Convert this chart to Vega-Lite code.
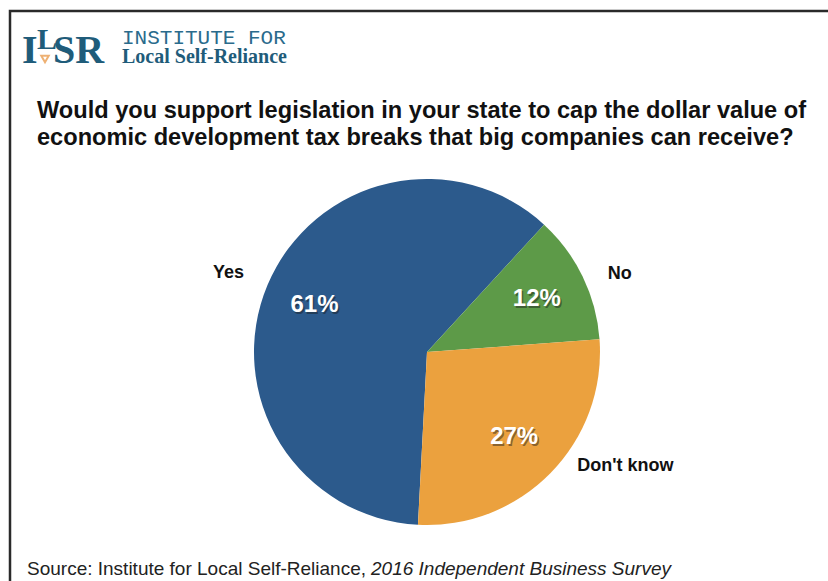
{
  "$schema": "https://vega.github.io/schema/vega-lite/v6.json",
  "width": 828,
  "height": 581,
  "padding": 0,
  "autosize": {"type": "none"},
  "background": "white",
  "config": {"view": {"stroke": null}},
  "data": {"values": [
    {"answer": "Yes", "pct": 0.61},
    {"answer": "No", "pct": 0.12},
    {"answer": "Don't know", "pct": 0.27}
  ]},
  "layer": [
    {
      "data": {"values": [{}]},
      "mark": {"type": "rect", "fill": null, "stroke": "#2a2a2a", "strokeWidth": 2.5},
      "encoding": {"x": {"value": 10}, "y": {"value": 11}, "x2": {"value": 900}, "y2": {"value": 700}}
    },
    {
      "mark": {"type": "arc", "outerRadius": 173},
      "encoding": {
        "x": {"value": 427},
        "y": {"value": 352},
        "theta": {"field": "pct", "type": "quantitative", "stack": true, "scale": {"domain": [0, 1], "range": [3.194, 9.477]}},
        "order": {"field": "answer", "sort": "descending"},
        "color": {"field": "answer", "type": "nominal", "legend": null,
          "scale": {"domain": ["Yes", "No", "Don't know"], "range": ["#2c5a8c", "#5d9a48", "#eba13e"]}}
      }
    },
    {
      "mark": {"type": "text", "radius": 122, "font": "Liberation Sans", "fontWeight": "bold", "fontSize": 24, "fill": "#1a1a1a", "opacity": 0.45, "dx": 1.5, "dy": 2, "align": "center", "baseline": "middle"},
      "encoding": {
        "x": {"value": 427},
        "y": {"value": 352},
        "theta": {"field": "pct", "type": "quantitative", "stack": true},
        "order": {"field": "answer", "sort": "descending"},
        "text": {"field": "pct", "type": "quantitative", "format": ".0%"}
      }
    },
    {
      "mark": {"type": "text", "radius": 122, "font": "Liberation Sans", "fontWeight": "bold", "fontSize": 24, "fill": "white", "align": "center", "baseline": "middle"},
      "encoding": {
        "x": {"value": 427},
        "y": {"value": 352},
        "theta": {"field": "pct", "type": "quantitative", "stack": true},
        "order": {"field": "answer", "sort": "descending"},
        "text": {"field": "pct", "type": "quantitative", "format": ".0%"}
      }
    },
    {
      "mark": {"type": "text", "radius": 212, "font": "Liberation Sans", "fontWeight": "bold", "fontSize": 18, "fill": "#111", "align": "center", "baseline": "middle", "dx": -3, "dy": 3},
      "encoding": {
        "x": {"value": 427},
        "y": {"value": 352},
        "theta": {"field": "pct", "type": "quantitative", "stack": true},
        "order": {"field": "answer", "sort": "descending"},
        "text": {"condition": {"test": "datum.answer === 'Yes'", "field": "answer"}, "value": ""}
      }
    },
    {
      "mark": {"type": "text", "radius": 212, "font": "Liberation Sans", "fontWeight": "bold", "fontSize": 18, "fill": "#111", "align": "center", "baseline": "middle", "dx": 2, "dy": 14},
      "encoding": {
        "x": {"value": 427},
        "y": {"value": 352},
        "theta": {"field": "pct", "type": "quantitative", "stack": true},
        "order": {"field": "answer", "sort": "descending"},
        "text": {"condition": {"test": "datum.answer === 'No'", "field": "answer"}, "value": ""}
      }
    },
    {
      "mark": {"type": "text", "radius": 212, "font": "Liberation Sans", "fontWeight": "bold", "fontSize": 18, "fill": "#111", "align": "center", "baseline": "middle", "dx": 47, "dy": -34},
      "encoding": {
        "x": {"value": 427},
        "y": {"value": 352},
        "theta": {"field": "pct", "type": "quantitative", "stack": true},
        "order": {"field": "answer", "sort": "descending"},
        "text": {"condition": {"test": "datum.answer === \"Don't know\"", "field": "answer"}, "value": ""}
      }
    },
    {
      "data": {"values": [{}]},
      "mark": {"type": "text", "font": "Liberation Sans", "fontWeight": "bold", "fontSize": 23.6, "fill": "#111", "align": "left", "baseline": "alphabetic", "lineHeight": 27},
      "encoding": {
        "x": {"value": 37},
        "y": {"value": 118},
        "text": {"value": ["Would you support legislation in your state to cap the dollar value of", "economic development tax breaks that big companies can receive?"]}
      }
    },
    {
      "data": {"values": [{}]},
      "mark": {"type": "text", "font": "Liberation Serif", "fontWeight": "bold", "fontSize": 40, "fill": "#1f5c7a", "align": "left", "baseline": "alphabetic"},
      "encoding": {"x": {"value": 22}, "y": {"value": 63}, "text": {"value": "I"}}
    },
    {
      "data": {"values": [{}]},
      "mark": {"type": "text", "font": "Liberation Serif", "fontWeight": "bold", "fontSize": 30, "fill": "#1f5c7a", "align": "left", "baseline": "alphabetic"},
      "encoding": {"x": {"value": 37}, "y": {"value": 49}, "text": {"value": "L"}}
    },
    {
      "data": {"values": [{}]},
      "mark": {"type": "point", "shape": "triangle-down", "size": 55, "filled": false, "stroke": "#e8913a", "strokeWidth": 2},
      "encoding": {"x": {"value": 45}, "y": {"value": 59}}
    },
    {
      "data": {"values": [{}]},
      "mark": {"type": "text", "font": "Liberation Serif", "fontWeight": "bold", "fontSize": 40, "fill": "#1f5c7a", "align": "left", "baseline": "alphabetic"},
      "encoding": {"x": {"value": 53}, "y": {"value": 63}, "text": {"value": "SR"}}
    },
    {
      "data": {"values": [{}]},
      "mark": {"type": "text", "font": "Liberation Mono", "fontSize": 21, "fill": "#2a6b8c", "align": "left", "baseline": "alphabetic"},
      "encoding": {"x": {"value": 122}, "y": {"value": 44}, "text": {"value": "INSTITUTE FOR"}}
    },
    {
      "data": {"values": [{}]},
      "mark": {"type": "text", "font": "Liberation Serif", "fontWeight": "bold", "fontSize": 20, "fill": "#1f5c7a", "align": "left", "baseline": "alphabetic"},
      "encoding": {"x": {"value": 122}, "y": {"value": 63}, "text": {"value": "Local Self-Reliance"}}
    },
    {
      "data": {"values": [{}]},
      "mark": {"type": "text", "font": "Liberation Sans", "fontSize": 19, "fill": "#222", "align": "left", "baseline": "alphabetic"},
      "encoding": {"x": {"value": 27}, "y": {"value": 575}, "text": {"value": "Source: Institute for Local Self-Reliance, "}}
    },
    {
      "data": {"values": [{}]},
      "mark": {"type": "text", "font": "Liberation Sans", "fontSize": 19, "fontStyle": "italic", "fill": "#222", "align": "left", "baseline": "alphabetic"},
      "encoding": {"x": {"value": 371}, "y": {"value": 575}, "text": {"value": "2016 Independent Business Survey"}}
    }
  ]
}
